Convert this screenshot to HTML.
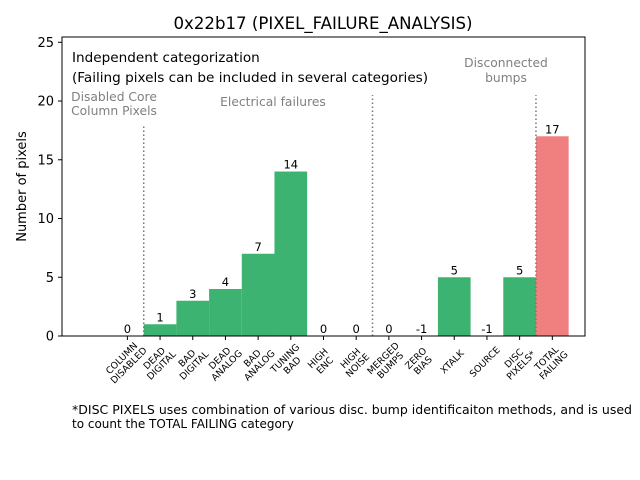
<!DOCTYPE html>
<html><head><meta charset="utf-8"><style>
html,body{margin:0;padding:0;background:#fff;}
svg{display:block;font-family:"DejaVu Sans","Liberation Sans",sans-serif;}
</style></head><body>
<svg id="chart" width="640" height="480" viewBox="0 0 640 480">
<rect width="640" height="480" fill="#fff"/>
<text x="323" y="29" font-size="16.6" text-anchor="middle">0x22b17 (PIXEL_FAILURE_ANALYSIS)</text>
<g id="plot"></g>
<text x="72" y="414" font-size="12" textLength="560" lengthAdjust="spacingAndGlyphs">*DISC PIXELS uses combination of various disc. bump identificaiton methods, and is used</text>
<text x="72" y="428" font-size="12">to count the TOTAL FAILING category</text>
</svg>
<script>
const categories = [["COLUMN","DISABLED"],["DEAD","DIGITAL"],["BAD","DIGITAL"],["DEAD","ANALOG"],["BAD","ANALOG"],["TUNING","BAD"],["HIGH","ENC"],["HIGH","NOISE"],["MERGED","BUMPS"],["ZERO","BIAS"],["XTALK"],["SOURCE"],["DISC","PIXELS*"],["TOTAL","FAILING"]];
const values = [0,1,3,4,7,14,0,0,0,-1,5,-1,5,17];
const yTicks = [0,5,10,15,20,25];
const dividers = [0.5,7.5,12.5];
const dividerTops = [18,20.5,20.5];

const L=62,R=585,T=37,B=336;
const yMax=25.45;
const xMin=-2.0,xMax=14.0;
const sx=v=>L+(v-xMin)/(xMax-xMin)*(R-L);
const sy=v=>B-v/yMax*(B-T);
const bw=sx(1)-sx(0);
const NS='http://www.w3.org/2000/svg';
const g=document.getElementById('plot');
function mk(tag,attrs,txt){const e=document.createElementNS(NS,tag);for(const k in attrs)e.setAttribute(k,attrs[k]);if(txt!==undefined)e.textContent=txt;g.appendChild(e);return e;}

values.forEach((v,i)=>{
  if(v>0){
    const r=mk('rect',{x:sx(i)-bw/2,y:sy(v),width:bw,height:sy(0)-sy(v),fill:i===13?'#f08080':'#3cb371'});
    
    
  }
  const t=mk('text',{x:sx(i),y:sy(Math.max(v,0))-3,'font-size':11.5,'text-anchor':'middle'},String(v));
  
  
  mk('line',{x1:sx(i),x2:sx(i),y1:B,y2:B+4,stroke:'#000','stroke-width':1});
  const lab=mk('text',{'font-size':9.3,'text-anchor':'middle',transform:`translate(${sx(i)},${B+28}) rotate(-45)`});
  
  
  categories[i].forEach((s,k)=>{const ts=document.createElementNS(NS,'tspan');ts.setAttribute('x',0);ts.setAttribute('y',(k-(categories[i].length-1))*10+ (categories[i].length===1?0:5));ts.textContent=s;lab.appendChild(ts);});
});

dividers.forEach((d,k)=>{
  const l=mk('line',{x1:sx(d),x2:sx(d),y1:B,y2:sy(dividerTops[k]),stroke:'#777','stroke-width':1.5,'stroke-dasharray':'1.5,2.5'});
  
  
});

yTicks.forEach(v=>{
  mk('line',{x1:L-4,x2:L,y1:sy(v),y2:sy(v),stroke:'#000','stroke-width':1});
  const t=mk('text',{x:L-8,y:sy(v)+4.5,'font-size':13,'text-anchor':'end'},String(v));
  
  
});

const frame=mk('rect',{x:L,y:T,width:R-L,height:B-T,fill:'none',stroke:'#000','stroke-width':1});



const yl=mk('text',{'font-size':13,'text-anchor':'middle',transform:`translate(26,${(T+B)/2}) rotate(-90)`},'Number of pixels');



const notes=[[72,62,'Independent categorization','#000',13.6,'start'],[72,82,'(Failing pixels can be included in several categories)','#000',13.6,'start'],
[114,101,'Disabled Core','#808080',12.3,'middle'],[114,115,'Column Pixels','#808080',12.3,'middle'],
[273,106,'Electrical failures','#808080',12.3,'middle'],[506,67,'Disconnected','#808080',12.3,'middle'],[506,82,'bumps','#808080',12.3,'middle']];
notes.forEach(n=>{
  const t=mk('text',{x:n[0],y:n[1],fill:n[3],'font-size':n[4],'text-anchor':n[5]},n[2]);
  
  
});
</script>
</body></html>
